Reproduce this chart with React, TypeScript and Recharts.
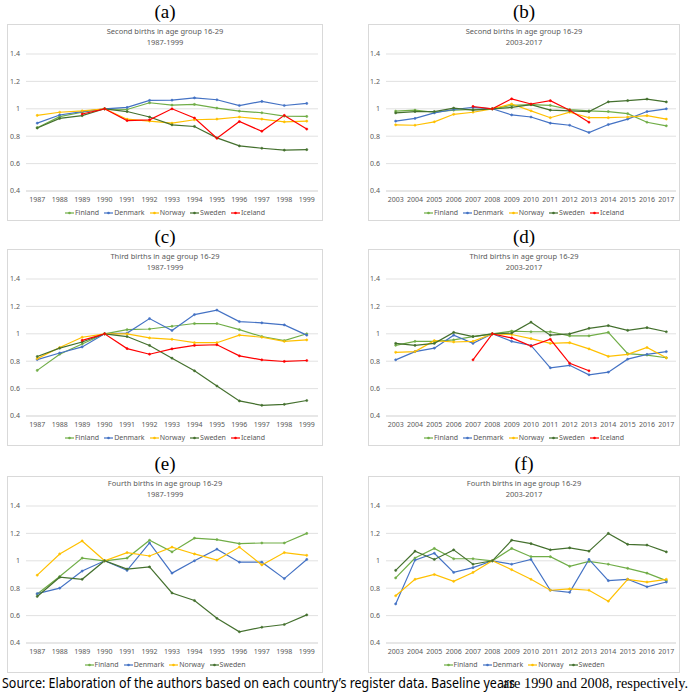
import React from 'react'
import { LineChart, Line, XAxis, YAxis, CartesianGrid } from 'recharts'

const years87 = ['1987', '1988', '1989', '1990', '1991', '1992', '1993', '1994', '1995', '1996', '1997', '1998', '1999']
const years03 = ['2003', '2004', '2005', '2006', '2007', '2008', '2009', '2010', '2011', '2012', '2013', '2014', '2015', '2016', '2017']
const yTicks = [0.4, 0.6, 0.8, 1, 1.2, 1.4]

// (a) second births 1987-1999
const aFinland = [0.862, 0.943, 0.975, 1, 0.995, 1.044, 1.027, 1.032, 1.005, 0.983, 0.971, 0.946, 0.944]
const aDenmark = [0.895, 0.955, 0.98, 1, 1.01, 1.061, 1.063, 1.08, 1.066, 1.024, 1.054, 1.024, 1.039]
const aNorway = [0.952, 0.975, 0.985, 1, 0.924, 0.91, 0.895, 0.92, 0.925, 0.94, 0.925, 0.905, 0.91]
const aSweden = [0.86, 0.93, 0.95, 1, 0.98, 0.94, 0.883, 0.871, 0.788, 0.729, 0.712, 0.698, 0.702]
const aIceland = [null, null, 0.962, 1, 0.914, 0.919, 1.0, 0.933, 0.785, 0.907, 0.836, 0.952, 0.852]

// (b) second births 2003-2017
const bFinland = [0.983, 0.99, 0.975, 0.99, 0.995, 1, 1.025, 1.03, 1.025, 0.995, 0.985, 0.98, 0.965, 0.902, 0.876]
const bDenmark = [0.91, 0.93, 0.97, 0.995, 1.01, 1, 0.955, 0.94, 0.895, 0.88, 0.827, 0.885, 0.925, 0.98, 1.0]
const bNorway = [0.883, 0.88, 0.905, 0.96, 0.975, 1, 1.035, 0.985, 0.935, 0.975, 0.935, 0.935, 0.94, 0.95, 0.925]
const bSweden = [0.97, 0.98, 0.98, 1.005, 0.99, 1, 1.01, 1.03, 0.99, 0.985, 0.98, 1.051, 1.06, 1.071, 1.05]
const bIceland = [null, null, null, null, 1.017, 1, 1.073, 1.035, 1.059, 0.99, 0.902, null, null, null, null]

// (c) third births 1987-1999
const cFinland = [0.733, 0.851, 0.925, 1, 1.03, 1.035, 1.055, 1.075, 1.075, 1.03, 0.98, 0.95, 1.0]
const cDenmark = [0.812, 0.86, 0.904, 1, 1.005, 1.111, 1.024, 1.14, 1.173, 1.089, 1.08, 1.065, 0.99]
const cNorway = [0.819, 0.9, 0.975, 1, 1.0, 0.97, 0.96, 0.935, 0.935, 0.99, 0.975, 0.945, 0.955]
const cSweden = [0.834, 0.895, 0.94, 1, 0.98, 0.915, 0.822, 0.73, 0.619, 0.51, 0.478, 0.485, 0.513]
const cIceland = [null, null, 0.952, 1, 0.892, 0.851, 0.89, 0.915, 0.92, 0.839, 0.81, 0.798, 0.805]

// (d) third births 2003-2017
const dFinland = [0.916, 0.945, 0.945, 0.955, 0.98, 1, 1.02, 1.015, 1.015, 0.985, 0.985, 1.01, 0.855, 0.845, 0.825]
const dDenmark = [0.81, 0.87, 0.895, 0.99, 0.93, 1, 0.945, 0.915, 0.752, 0.77, 0.701, 0.72, 0.815, 0.85, 0.87]
const dNorway = [0.865, 0.87, 0.95, 0.94, 0.945, 1, 0.995, 0.965, 0.93, 0.935, 0.89, 0.835, 0.85, 0.9, 0.825]
const dSweden = [0.93, 0.915, 0.93, 1.01, 0.98, 1, 1.005, 1.085, 0.99, 1.0, 1.04, 1.06, 1.025, 1.045, 1.015]
const dIceland = [null, null, null, null, 0.81, 1, 0.97, 0.91, 0.96, 0.785, 0.73, null, null, null, null]

// (e) fourth births 1987-1999
const eFinland = [0.757, 0.885, 1.02, 1, 1.02, 1.15, 1.065, 1.165, 1.155, 1.125, 1.13, 1.13, 1.2]
const eDenmark = [0.76, 0.8, 0.925, 1, 0.93, 1.13, 0.91, 1.0, 1.085, 0.99, 0.99, 0.87, 1.01]
const eNorway = [0.895, 1.05, 1.145, 1, 1.06, 1.035, 1.1, 1.05, 1.005, 1.1, 0.97, 1.06, 1.04]
const eSweden = [0.74, 0.88, 0.865, 1, 0.94, 0.955, 0.765, 0.71, 0.58, 0.482, 0.515, 0.535, 0.605]

// (f) fourth births 2003-2017
const fFinland = [0.875, 1.02, 1.09, 1.015, 1.015, 1, 1.09, 1.03, 1.03, 0.96, 0.995, 0.975, 0.945, 0.91, 0.855]
const fDenmark = [0.685, 1.005, 1.055, 0.915, 0.95, 1, 0.975, 1.01, 0.785, 0.77, 1.01, 0.855, 0.865, 0.81, 0.845]
const fNorway = [0.745, 0.865, 0.9, 0.85, 0.915, 1, 0.935, 0.865, 0.785, 0.795, 0.785, 0.705, 0.865, 0.845, 0.865]
const fSweden = [0.93, 1.07, 1.01, 1.08, 0.975, 1, 1.15, 1.125, 1.08, 1.095, 1.07, 1.2, 1.12, 1.115, 1.065]

const COLORS: Record<string, string> = {
  Finland: '#70AD47',
  Denmark: '#4472C4',
  Norway: '#FFC000',
  Sweden: '#44702E',
  Iceland: '#FF0000',
}

const FONT = '"Noto Sans", "Open Sans", sans-serif'
const GRAY = '#595959'

type Series = { name: string; values: (number | null)[] }

function buildRows(years: string[], series: Series[]) {
  return years.map((year, i) => {
    const row: Record<string, string | number | null> = { year }
    series.forEach((s) => {
      row[s.name] = s.values[i]
    })
    return row
  })
}

function Legend({ names }: { names: string[] }) {
  return (
    <div style={{ display: 'flex', justifyContent: 'center', gap: 5, fontFamily: FONT, fontSize: 7, color: GRAY, lineHeight: '10px' }}>
      {names.map((n) => (
        <div key={n} style={{ display: 'flex', alignItems: 'center' }}>
          <svg width={9} height={6} style={{ marginRight: 1 }}>
            <line x1={0} y1={3} x2={9} y2={3} stroke={COLORS[n]} strokeWidth={1.2} />
            <circle cx={4.5} cy={3} r={1.3} fill={COLORS[n]} />
          </svg>
          <span>{n}</span>
        </div>
      ))}
    </div>
  )
}

interface PanelProps {
  x: number
  y: number
  w: number
  label: string
  title: string
  period: string
  years: string[]
  series: Series[]
  left: boolean
}

function Panel({ x, y, w, label, title, period, years, series, left }: PanelProps) {
  const rows = buildRows(years, series)
  const inner = w - 2
  const yw = left ? 18 : 17
  const mr = left ? 4 : 3
  const plotW = inner - yw - mr
  const pad = plotW / (2 * years.length)
  return (
    <>
      <div style={{ position: 'absolute', left: x, top: y - 24, width: w, textAlign: 'center', fontFamily: '"Liberation Serif", "Times New Roman", serif', fontSize: 19, lineHeight: '24px' }}>
        {label}
      </div>
      <div style={{ position: 'absolute', left: x, top: y, width: w, height: 197, boxSizing: 'border-box', border: '1px solid #d9d9d9', background: '#fff' }}>
        <div style={{ position: 'absolute', left: 0, top: 1, width: inner, textAlign: 'center', fontFamily: FONT, fontSize: 7.5, lineHeight: '11px', color: GRAY }}>
          {title}
          <br />
          {period}
        </div>
        <div style={{ position: 'absolute', left: 0, top: 0 }}>
          <LineChart width={inner} height={29 + 137 + 15} data={rows} margin={{ top: 29, right: mr, bottom: 0, left: 0 }}>
            <CartesianGrid vertical={false} stroke="#d9d9d9" strokeWidth={0.8} />
            <XAxis
              dataKey="year"
              interval={0}
              height={15}
              padding={{ left: pad, right: pad }}
              tickLine={false}
              tickSize={4}
              tickMargin={2}
              axisLine={{ stroke: '#d9d9d9', strokeWidth: 0.8 }}
              tick={{ fontSize: 7, fill: GRAY, fontFamily: FONT }}
            />
            <YAxis
              width={yw}
              domain={[0.4, 1.4]}
              ticks={yTicks}
              interval={0}
              axisLine={false}
              tickLine={false}
              tickSize={3}
              tickMargin={3}
              tickFormatter={(v) => String(v)}
              tick={{ fontSize: 7, fill: GRAY, fontFamily: FONT }}
            />
            {series.map((s) => (
              <Line
                key={s.name}
                dataKey={s.name}
                stroke={COLORS[s.name]}
                strokeWidth={1.2}
                dot={{ r: 1.1, fill: COLORS[s.name], stroke: COLORS[s.name], strokeWidth: 0.5 }}
                connectNulls={false}
                isAnimationActive={false}
              />
            ))}
          </LineChart>
        </div>
        <div style={{ position: 'absolute', left: 0, top: 183, width: inner }}>
          <Legend names={series.map((s) => s.name)} />
        </div>
      </div>
    </>
  )
}

export default function App() {
  const L = { x: 7, w: 316 }
  const R = { x: 368, w: 312 }
  return (
    <div style={{ position: 'absolute', left: 0, top: 0, width: 690, height: 693, background: '#fff', overflow: 'hidden' }}>
      <Panel {...L} y={24} left label="(a)" title="Second births in age group 16-29" period="1987-1999" years={years87}
        series={[
          { name: 'Finland', values: aFinland },
          { name: 'Denmark', values: aDenmark },
          { name: 'Norway', values: aNorway },
          { name: 'Sweden', values: aSweden },
          { name: 'Iceland', values: aIceland },
        ]} />
      <Panel {...R} y={24} left={false} label="(b)" title="Second births in age group 16-29" period="2003-2017" years={years03}
        series={[
          { name: 'Finland', values: bFinland },
          { name: 'Denmark', values: bDenmark },
          { name: 'Norway', values: bNorway },
          { name: 'Sweden', values: bSweden },
          { name: 'Iceland', values: bIceland },
        ]} />
      <Panel {...L} y={249} left label="(c)" title="Third births in age group 16-29" period="1987-1999" years={years87}
        series={[
          { name: 'Finland', values: cFinland },
          { name: 'Denmark', values: cDenmark },
          { name: 'Norway', values: cNorway },
          { name: 'Sweden', values: cSweden },
          { name: 'Iceland', values: cIceland },
        ]} />
      <Panel {...R} y={249} left={false} label="(d)" title="Third births in age group 16-29" period="2003-2017" years={years03}
        series={[
          { name: 'Finland', values: dFinland },
          { name: 'Denmark', values: dDenmark },
          { name: 'Norway', values: dNorway },
          { name: 'Sweden', values: dSweden },
          { name: 'Iceland', values: dIceland },
        ]} />
      <Panel {...L} y={476} left label="(e)" title="Fourth births in age group 16-29" period="1987-1999" years={years87}
        series={[
          { name: 'Finland', values: eFinland },
          { name: 'Denmark', values: eDenmark },
          { name: 'Norway', values: eNorway },
          { name: 'Sweden', values: eSweden },
        ]} />
      <Panel {...R} y={476} left={false} label="(f)" title="Fourth births in age group 16-29" period="2003-2017" years={years03}
        series={[
          { name: 'Finland', values: fFinland },
          { name: 'Denmark', values: fDenmark },
          { name: 'Norway', values: fNorway },
          { name: 'Sweden', values: fSweden },
        ]} />
      <svg width={690} height={20} style={{ position: 'absolute', left: 0, top: 673 }}>
        <text x={2} y={15} fontFamily='"Noto Sans", sans-serif' fontSize={14} textLength={513} lengthAdjust="spacingAndGlyphs" fill="#000">
          Source: Elaboration of the authors based on each country’s register data. Baseline years
        </text>
        <text x={503} y={15} fontFamily='"Liberation Serif", "Times New Roman", serif' fontSize={14} textLength={185} lengthAdjust="spacingAndGlyphs" fill="#000">
          are 1990 and 2008, respectively.
        </text>
      </svg>
    </div>
  )
}
